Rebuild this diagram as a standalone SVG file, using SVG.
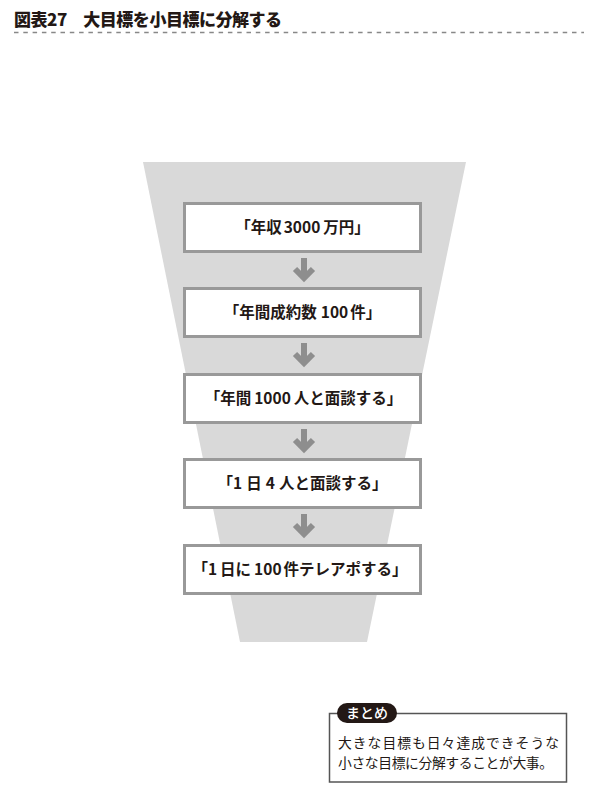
<svg xmlns="http://www.w3.org/2000/svg" width="600" height="796" viewBox="0 0 600 796">
<style>
.t{font-family:"Noto Sans CJK JP","Noto Sans CJK SC",sans-serif;fill:#231815}
.title{font-size:17px;font-weight:900}
.box{fill:#fff;stroke:#999;stroke-width:3}
.lbl{font-size:15.5px;font-weight:700;text-anchor:middle}
.arr{fill:none;stroke:#8e8e8e;stroke-width:6}
.sum{font-size:13.8px;font-weight:400}
</style>
<rect width="600" height="796" fill="#fff"/>
<text class="t title" x="14" y="26" textLength="268">図表27　大目標を小目標に分解する</text>
<line x1="14" y1="32.5" x2="584" y2="32.5" stroke="#888" stroke-width="1.5" stroke-dasharray="4.5 4.8"/>
<polygon id="funnel" points="143,162 466,162 367,642 240,642" fill="#d9d9d9"/>
<g id="connectors">
<path class="arr" d="M304 258V278M295 269L304 278L313 269"/>
<path class="arr" d="M304 343V363M295 354L304 363L313 354"/>
<path class="arr" d="M304 429V449M295 440L304 449L313 440"/>
<path class="arr" d="M304 514V534M295 525L304 534L313 525"/>
</g>
<g id="n1"><rect class="box" x="184.5" y="203.5" width="236" height="48"/>
<text class="t lbl" x="302.5" y="233">「年収<tspan dx="2">3000</tspan><tspan dx="3">万円」</tspan></text></g>
<g id="n2"><rect class="box" x="184.5" y="288.5" width="236" height="48"/>
<text class="t lbl" x="302.5" y="318">「年間成約数<tspan dx="4">100</tspan><tspan dx="2">件」</tspan></text></g>
<g id="n3"><rect class="box" x="184.5" y="374.5" width="236" height="48"/>
<text class="t lbl" x="303.5" y="404">「年間<tspan dx="3">1000</tspan><tspan dx="3">人と面談する」</tspan></text></g>
<g id="n4"><rect class="box" x="184.5" y="459.5" width="236" height="48"/>
<text class="t lbl" x="302.5" y="489">「1<tspan dx="4">日</tspan><tspan dx="4">4</tspan><tspan dx="4">人と面談する」</tspan></text></g>
<g id="n5"><rect class="box" x="184.5" y="545.5" width="236" height="48"/>
<text class="t lbl" x="300" y="575">「1<tspan dx="3">日に</tspan><tspan dx="3">100</tspan><tspan dx="2">件テレアポする」</tspan></text></g>
<g id="summary">
<rect x="329.5" y="713.5" width="237" height="68.5" fill="#fff" stroke="#555" stroke-width="1.5"/>
<rect x="337" y="703" width="60" height="20" rx="10" fill="#231815"/>
<text class="t" x="367" y="718" font-size="14" font-weight="500" text-anchor="middle" style="fill:#fff">まとめ</text>
<text class="t sum" x="338" y="747.5" textLength="221" lengthAdjust="spacing">大きな目標も日々達成できそうな</text>
<text class="t sum" x="338" y="767.5" textLength="215" lengthAdjust="spacing">小さな目標に分解することが大事。</text>
</g>
</svg>
